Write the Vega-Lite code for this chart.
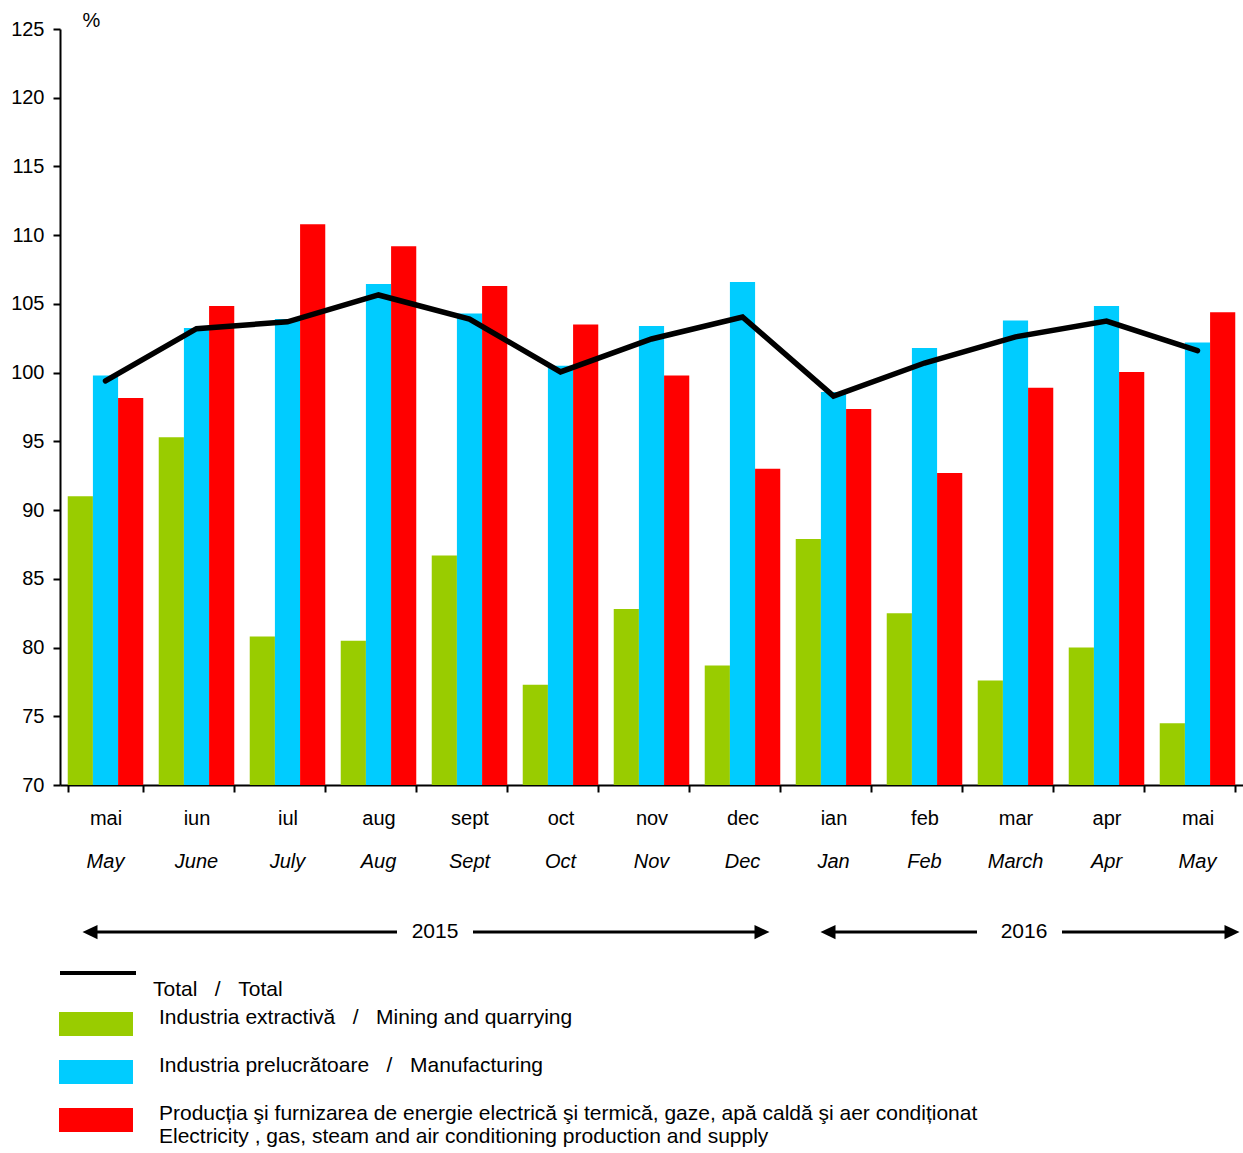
{
  "$schema": "https://vega.github.io/schema/vega-lite/v6.json",
  "background": "white",
  "padding": {"left": 10, "top": 10, "right": 0, "bottom": 0},
  "bounds": "flush",
  "spacing": 132,
  "config": {
    "font": "Liberation Sans",
    "view": {"stroke": null},
    "axis": {"labelColor": "black", "labelFontSize": 20, "domainColor": "black", "tickColor": "black", "grid": false}
  },
  "datasets": {
    "bars": [
      {"month": "mai|May|2015", "series": "mining", "value": 91.0},
      {"month": "mai|May|2015", "series": "manuf", "value": 99.8},
      {"month": "mai|May|2015", "series": "elec", "value": 98.15},
      {"month": "iun|June|2015", "series": "mining", "value": 95.3},
      {"month": "iun|June|2015", "series": "manuf", "value": 103.25},
      {"month": "iun|June|2015", "series": "elec", "value": 104.85},
      {"month": "iul|July|2015", "series": "mining", "value": 80.8},
      {"month": "iul|July|2015", "series": "manuf", "value": 103.9},
      {"month": "iul|July|2015", "series": "elec", "value": 110.8},
      {"month": "aug|Aug|2015", "series": "mining", "value": 80.5},
      {"month": "aug|Aug|2015", "series": "manuf", "value": 106.45},
      {"month": "aug|Aug|2015", "series": "elec", "value": 109.2},
      {"month": "sept|Sept|2015", "series": "mining", "value": 86.7},
      {"month": "sept|Sept|2015", "series": "manuf", "value": 104.3},
      {"month": "sept|Sept|2015", "series": "elec", "value": 106.3},
      {"month": "oct|Oct|2015", "series": "mining", "value": 77.3},
      {"month": "oct|Oct|2015", "series": "manuf", "value": 100.5},
      {"month": "oct|Oct|2015", "series": "elec", "value": 103.5},
      {"month": "nov|Nov|2015", "series": "mining", "value": 82.8},
      {"month": "nov|Nov|2015", "series": "manuf", "value": 103.4},
      {"month": "nov|Nov|2015", "series": "elec", "value": 99.8},
      {"month": "dec|Dec|2015", "series": "mining", "value": 78.7},
      {"month": "dec|Dec|2015", "series": "manuf", "value": 106.6},
      {"month": "dec|Dec|2015", "series": "elec", "value": 93.0},
      {"month": "ian|Jan|2016", "series": "mining", "value": 87.9},
      {"month": "ian|Jan|2016", "series": "manuf", "value": 98.6},
      {"month": "ian|Jan|2016", "series": "elec", "value": 97.35},
      {"month": "feb|Feb|2016", "series": "mining", "value": 82.5},
      {"month": "feb|Feb|2016", "series": "manuf", "value": 101.8},
      {"month": "feb|Feb|2016", "series": "elec", "value": 92.7},
      {"month": "mar|March|2016", "series": "mining", "value": 77.6},
      {"month": "mar|March|2016", "series": "manuf", "value": 103.8},
      {"month": "mar|March|2016", "series": "elec", "value": 98.9},
      {"month": "apr|Apr|2016", "series": "mining", "value": 80.0},
      {"month": "apr|Apr|2016", "series": "manuf", "value": 104.85},
      {"month": "apr|Apr|2016", "series": "elec", "value": 100.05},
      {"month": "mai|May|2016", "series": "mining", "value": 74.5},
      {"month": "mai|May|2016", "series": "manuf", "value": 102.2},
      {"month": "mai|May|2016", "series": "elec", "value": 104.4}
    ],
    "total": [
      {"month": "mai|May|2015", "value": 99.4},
      {"month": "iun|June|2015", "value": 103.2},
      {"month": "iul|July|2015", "value": 103.7},
      {"month": "aug|Aug|2015", "value": 105.65},
      {"month": "sept|Sept|2015", "value": 103.9},
      {"month": "oct|Oct|2015", "value": 100.05},
      {"month": "nov|Nov|2015", "value": 102.45},
      {"month": "dec|Dec|2015", "value": 104.05},
      {"month": "ian|Jan|2016", "value": 98.3},
      {"month": "feb|Feb|2016", "value": 100.7},
      {"month": "mar|March|2016", "value": 102.6},
      {"month": "apr|Apr|2016", "value": 103.75},
      {"month": "mai|May|2016", "value": 101.6}
    ],
    "years": [
      {"year": "2015", "from": "mai|May|2015", "to": "dec|Dec|2015", "mid": "sept|Sept|2015"},
      {"year": "2016", "from": "ian|Jan|2016", "to": "mai|May|2016", "mid": "mar|March|2016"}
    ]
  },
  "vconcat": [
    {
      "width": 1183,
      "height": 756,
      "layer": [
        {
          "data": {"name": "bars"},
          "mark": {"type": "bar", "clip": true},
          "encoding": {
            "x": {
              "field": "month", "type": "nominal", "sort": null,
              "scale": {"paddingInner": 0.17, "paddingOuter": 0.085},
              "axis": {"title": null, "labelExpr": "isString(datum.value) ? split(datum.value,'|')[0] : ''", "labelAngle": 0, "tickBand": "extent", "tickSize": 7, "tickWidth": 2, "domainWidth": 2, "labelPadding": 16, "labelFontSize": 20}
            },
            "xOffset": {"field": "series", "type": "nominal", "sort": ["mining", "manuf", "elec"], "scale": {"paddingInner": 0, "paddingOuter": 0}},
            "y": {
              "field": "value", "type": "quantitative",
              "scale": {"domain": [70, 125], "nice": false, "zero": false},
              "axis": {"title": "%", "titleAngle": 0, "titleX": 31, "titleY": -9, "titleAlign": "center", "titleBaseline": "middle", "titleFontSize": 20, "titleFontWeight": "normal", "titleColor": "black", "values": [70, 75, 80, 85, 90, 95, 100, 105, 110, 115, 120, 125], "labelPadding": 9, "labelFontSize": 20, "tickSize": 7, "tickWidth": 2, "domainWidth": 2}
            },
            "y2": {"datum": 70},
            "color": {
              "field": "series", "type": "nominal",
              "scale": {"domain": ["mining", "manuf", "elec"], "range": ["#99cc00", "#00ccff", "#ff0000"]},
              "legend": {
                "title": null, "orient": "none", "legendX": 1, "legendY": 960, "padding": 0,
                "symbolType": "M-1.057,-0.343H1.057V0.343H-1.057Z", "symbolSize": 4900, "symbolStrokeWidth": 0,
                "labelExpr": "datum.value == 'mining' ? 'Industria extractivă\u00a0\u00a0\u00a0/\u00a0\u00a0\u00a0Mining and quarrying' : datum.value == 'manuf' ? 'Industria prelucrătoare\u00a0\u00a0\u00a0/\u00a0\u00a0\u00a0Manufacturing' : ['Producția şi furnizarea de energie electrică şi termică, gaze, apă caldă şi aer condiționat', 'Electricity , gas, steam and air conditioning production and supply']",
                "labelFontSize": 21, "labelColor": "black", "labelOffset": 28, "labelLimit": 2000, "labelBaseline": "alphabetic", "rowPadding": 0
              }
            }
          }
        },
        {
          "data": {"name": "total"},
          "mark": {"type": "line", "strokeWidth": 5.5, "strokeCap": "round"},
          "encoding": {
            "x": {
              "field": "month", "type": "nominal", "sort": null,
              "axis": {"orient": "bottom", "title": null, "labelExpr": "isString(datum.value) ? split(datum.value,'|')[1] : ''", "labelAngle": 0, "ticks": false, "tickSize": 0, "domain": false, "labelPadding": 66, "labelFontSize": 20, "labelFontStyle": "italic"}
            },
            "y": {"field": "value", "type": "quantitative"},
            "stroke": {
              "datum": "Total",
              "scale": {"range": ["black"]},
              "legend": {
                "title": null, "orient": "none", "legendX": -2, "legendY": 904, "padding": 0,
                "symbolType": "stroke", "symbolSize": 5776, "symbolStrokeWidth": 4, "symbolStrokeColor": "black",
                "labelExpr": "['', 'Total\u00a0\u00a0\u00a0/\u00a0\u00a0\u00a0Total']", "labelBaseline": "alphabetic", "labelFontSize": 21, "labelColor": "black", "labelOffset": 15, "labelLimit": 2000
              }
            }
          }
        }
      ],
      "resolve": {"axis": {"x": "independent"}}
    },
    {
      "width": 1183,
      "height": 30,
      "data": {"name": "years"},
      "layer": [
        {
          "transform": [{"filter": "datum.year == '2015'"}],
          "mark": {"type": "rule", "strokeWidth": 3, "color": "black", "xOffset": -15.5, "x2Offset": 19.5},
          "encoding": {
            "x": {"field": "from", "type": "nominal", "scale": {"type": "band", "domain": ["mai|May|2015", "iun|June|2015", "iul|July|2015", "aug|Aug|2015", "sept|Sept|2015", "oct|Oct|2015", "nov|Nov|2015", "dec|Dec|2015", "ian|Jan|2016", "feb|Feb|2016", "mar|March|2016", "apr|Apr|2016", "mai|May|2016"], "paddingInner": 0.17, "paddingOuter": 0.085}, "axis": null},
            "x2": {"field": "to"},
            "y": {"datum": "a", "type": "nominal", "axis": null}
          }
        },
        {
          "transform": [{"filter": "datum.year == '2016'"}],
          "mark": {"type": "rule", "strokeWidth": 3, "color": "black", "xOffset": -5.5, "x2Offset": 34.5},
          "encoding": {
            "x": {"field": "from", "type": "nominal"},
            "x2": {"field": "to"},
            "y": {"datum": "a", "type": "nominal"}
          }
        },
        {
          "transform": [{"filter": "datum.year == '2015'"}],
          "mark": {"type": "point", "shape": "M-1,0L1,-0.95L1,0.95Z", "size": 225, "filled": true, "color": "black", "opacity": 1, "xOffset": -15.5},
          "encoding": {"x": {"field": "from", "type": "nominal"}, "y": {"datum": "a", "type": "nominal"}}
        },
        {
          "transform": [{"filter": "datum.year == '2016'"}],
          "mark": {"type": "point", "shape": "M-1,0L1,-0.95L1,0.95Z", "size": 225, "filled": true, "color": "black", "opacity": 1, "xOffset": -5.5},
          "encoding": {"x": {"field": "from", "type": "nominal"}, "y": {"datum": "a", "type": "nominal"}}
        },
        {
          "transform": [{"filter": "datum.year == '2015'"}],
          "mark": {"type": "point", "shape": "M1,0L-1,-0.95L-1,0.95Z", "size": 225, "filled": true, "color": "black", "opacity": 1, "xOffset": 19.5},
          "encoding": {"x": {"field": "to", "type": "nominal"}, "y": {"datum": "a", "type": "nominal"}}
        },
        {
          "transform": [{"filter": "datum.year == '2016'"}],
          "mark": {"type": "point", "shape": "M1,0L-1,-0.95L-1,0.95Z", "size": 225, "filled": true, "color": "black", "opacity": 1, "xOffset": 34.5},
          "encoding": {"x": {"field": "to", "type": "nominal"}, "y": {"datum": "a", "type": "nominal"}}
        },
        {
          "transform": [{"filter": "datum.year == '2015'"}],
          "mark": {"type": "bar", "color": "white", "width": 76, "xOffset": -34.5},
          "encoding": {"x": {"field": "mid", "type": "nominal"}}
        },
        {
          "transform": [{"filter": "datum.year == '2016'"}],
          "mark": {"type": "bar", "color": "white", "width": 85, "xOffset": 4},
          "encoding": {"x": {"field": "mid", "type": "nominal"}}
        },
        {
          "transform": [{"filter": "datum.year == '2015'"}],
          "mark": {"type": "text", "fontSize": 21, "color": "black", "baseline": "middle", "xOffset": -34.5},
          "encoding": {"x": {"field": "mid", "type": "nominal"}, "y": {"datum": "a", "type": "nominal"}, "text": {"field": "year"}}
        },
        {
          "transform": [{"filter": "datum.year == '2016'"}],
          "mark": {"type": "text", "fontSize": 21, "color": "black", "baseline": "middle", "xOffset": 8.5},
          "encoding": {"x": {"field": "mid", "type": "nominal"}, "y": {"datum": "a", "type": "nominal"}, "text": {"field": "year"}}
        }
      ]
    }
  ]
}
